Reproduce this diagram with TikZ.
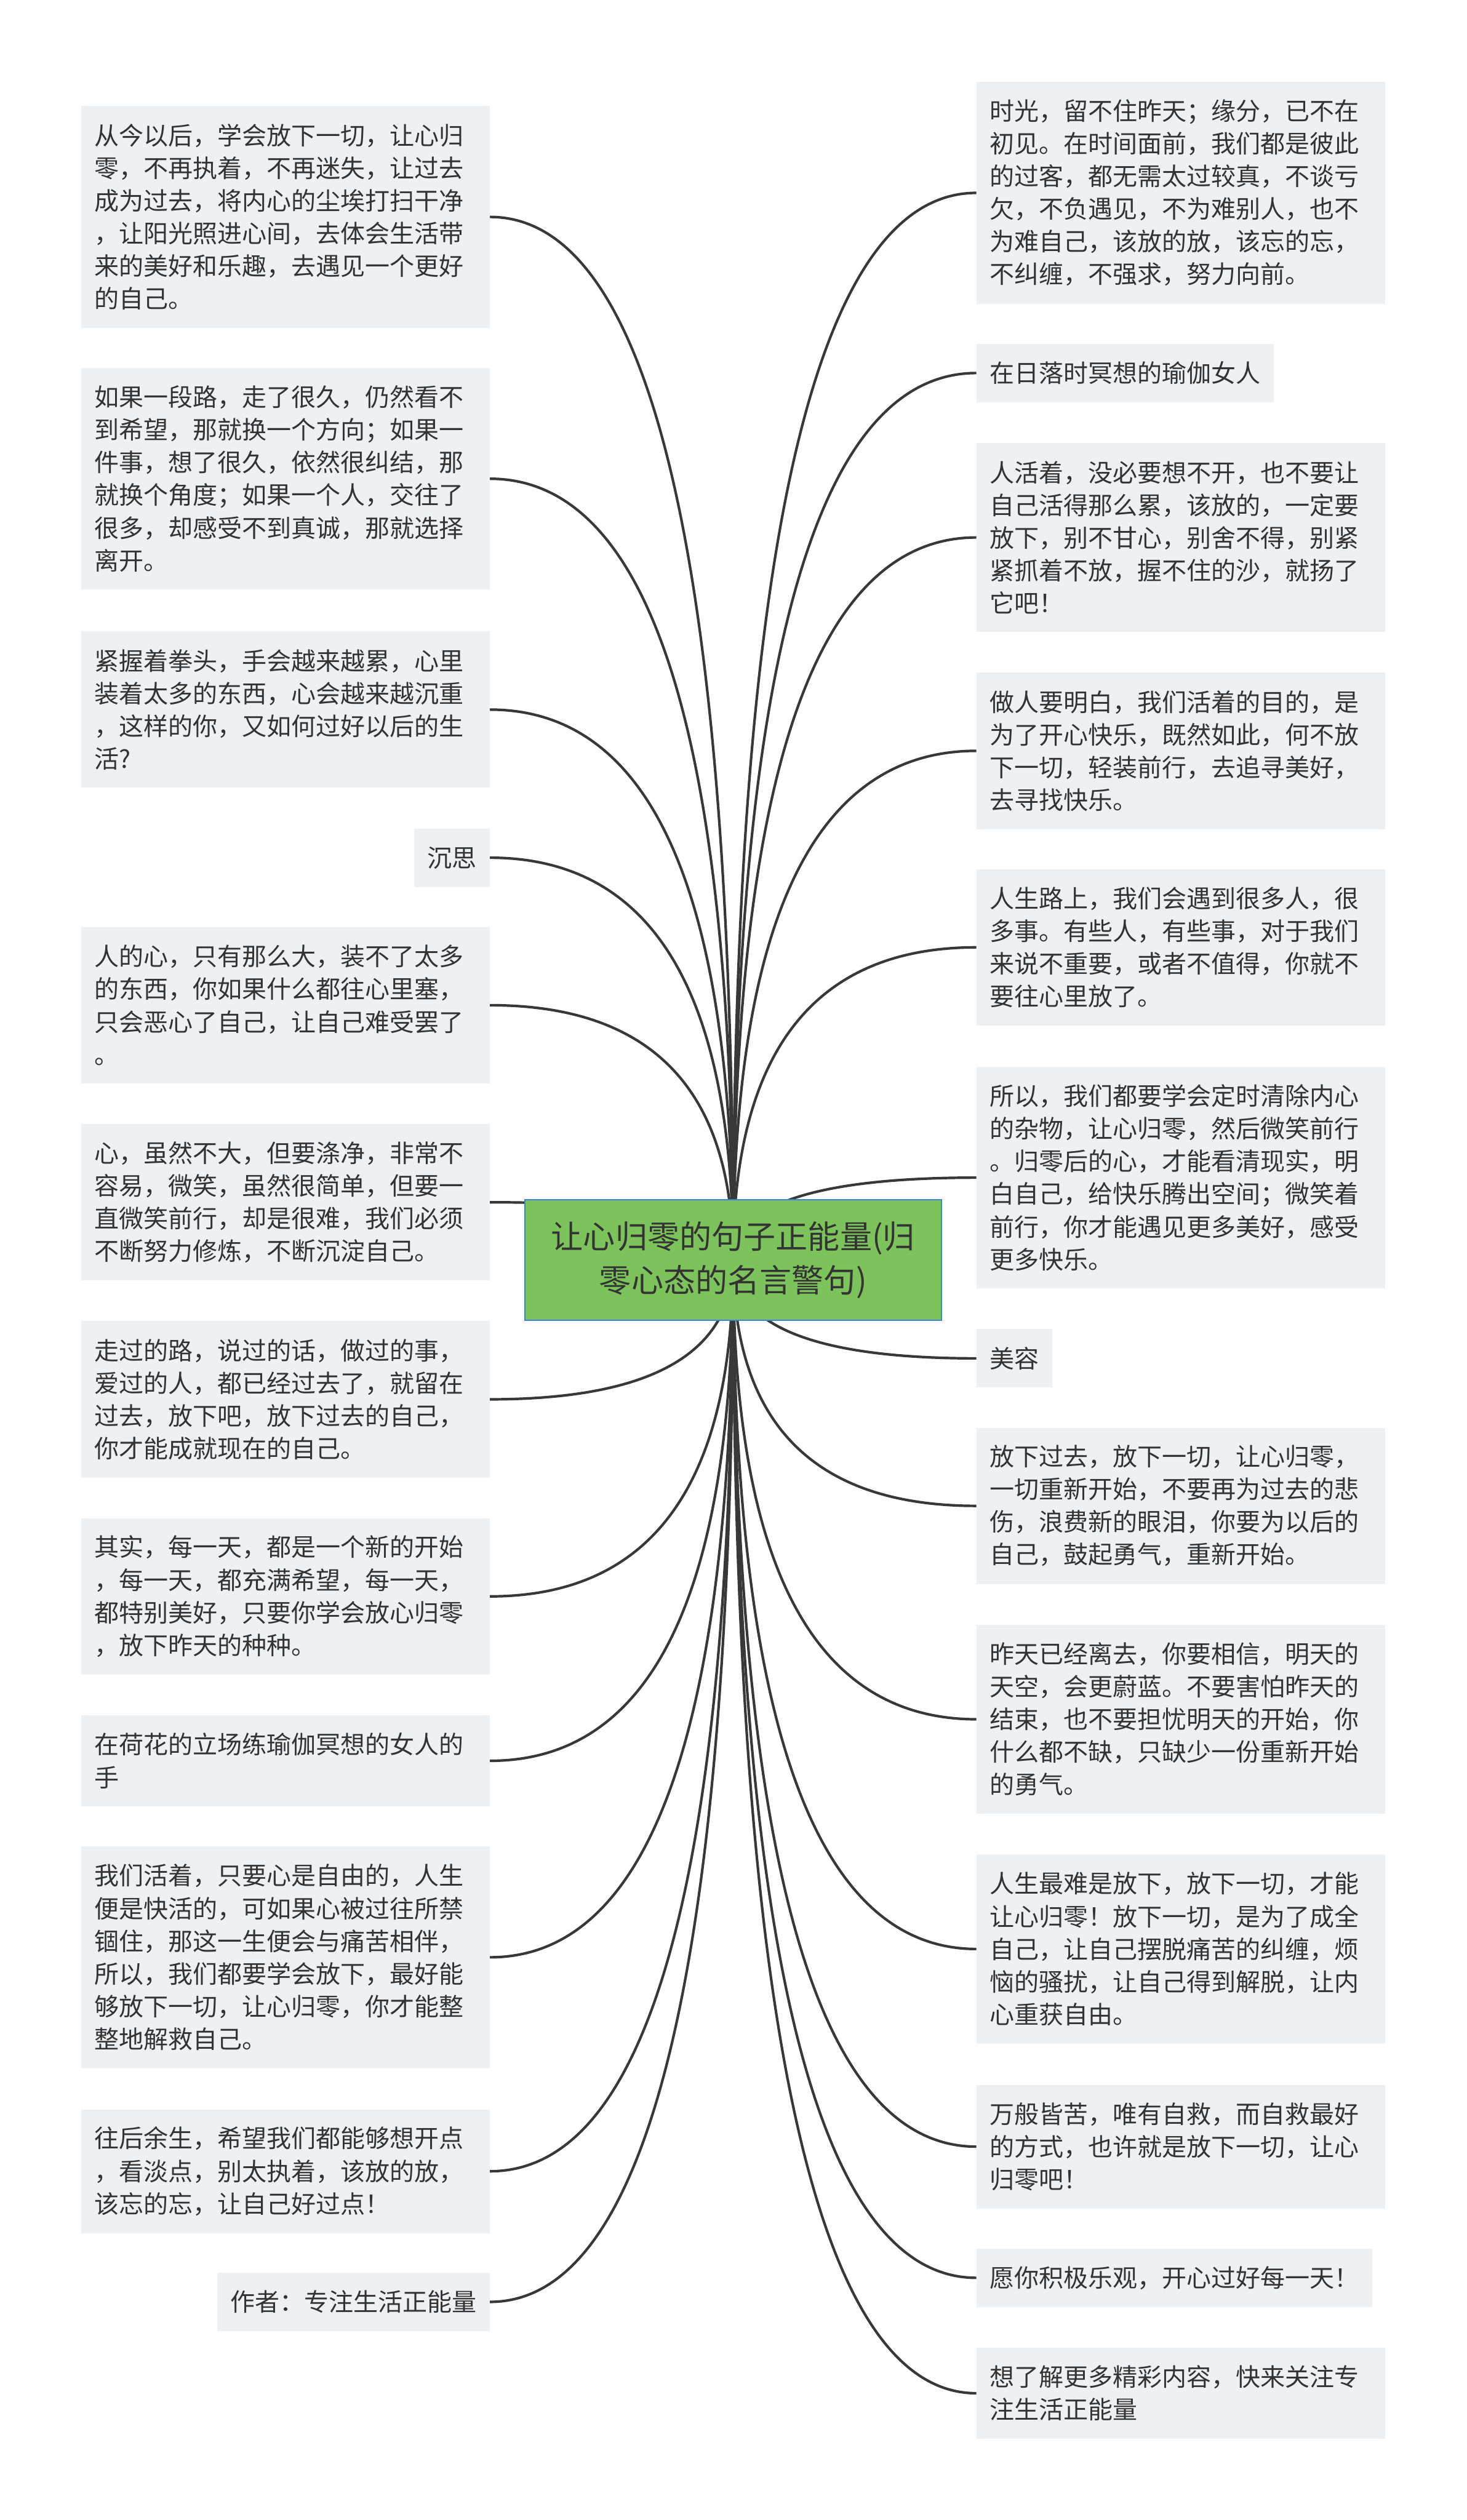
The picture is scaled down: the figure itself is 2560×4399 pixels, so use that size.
\documentclass[tikz,border=0pt]{standalone}
\usepackage{fontspec}
\newfontfamily\cjk{Noto Sans CJK SC}
\usetikzlibrary{calc,backgrounds}
\definecolor{ink}{HTML}{333333}
\definecolor{leafgray}{HTML}{EEF1F4}
\definecolor{rootgreen}{HTML}{7CC35B}
\definecolor{rootblue}{HTML}{3F80D8}
\definecolor{twiggray}{HTML}{383838}

\begin{document}
\begin{tikzpicture}[x=1pt,y=-1pt,
leaf/.style ={rectangle, fill=leafgray, text=ink,
  inner xsep=23pt, inner ysep=0pt, text width=667pt, align=left,
  minimum height={45pt+57pt*#1}, font=\cjk\fontsize{43}{57}\selectfont
},
tag/.style ={rectangle, fill=leafgray, text=ink,
  inner xsep=23pt, inner ysep=0pt, minimum height=102pt,
  font=\cjk\fontsize{43}{57}\selectfont
},
rootbox/.style ={rectangle, draw=rootblue, line width=2.5pt, fill=rootgreen,
  text=ink, align=center, minimum width=727pt, minimum height=211pt,
  font=\cjk\fontsize{56}{77}\selectfont
},
twig/.style ={draw=twiggray, line width=4.5pt}
]
\useasboundingbox (0,0) rectangle (2560,4399);

% centre
\node (root) at (1279.5,2199.5) [rootbox] {让心归零的句子正能量(归\\零心态的名言警句)};

% left side
\node (l1) at (855,185) [leaf=6, anchor=north east] {从今以后，学会放下一切，让心归\\零，不再执着，不再迷失，让过去\\成为过去，将内心的尘埃打扫干净\\，让阳光照进心间，去体会生活带\\来的美好和乐趣，去遇见一个更好\\的自己。};
\node (l2) at (855,642) [leaf=6, anchor=north east] {如果一段路，走了很久，仍然看不\\到希望，那就换一个方向；如果一\\件事，想了很久，依然很纠结，那\\就换个角度；如果一个人，交往了\\很多，却感受不到真诚，那就选择\\离开。};
\node (l3) at (855,1102) [leaf=4, anchor=north east] {紧握着拳头，手会越来越累，心里\\装着太多的东西，心会越来越沉重\\，这样的你，又如何过好以后的生\\活?};
\node (l4) at (855,1446) [tag, anchor=north east] {沉思};
\node (l5) at (855,1618) [leaf=4, anchor=north east] {人的心，只有那么大，装不了太多\\的东西，你如果什么都往心里塞，\\只会恶心了自己，让自己难受罢了\\。};
\node (l6) at (855,1962) [leaf=4, anchor=north east] {心，虽然不大，但要涤净，非常不\\容易，微笑，虽然很简单，但要一\\直微笑前行，却是很难，我们必须\\不断努力修炼，不断沉淀自己。};
\node (l7) at (855,2306) [leaf=4, anchor=north east] {走过的路，说过的话，做过的事，\\爱过的人，都已经过去了，就留在\\过去，放下吧，放下过去的自己，\\你才能成就现在的自己。};
\node (l8) at (855,2650) [leaf=4, anchor=north east] {其实，每一天，都是一个新的开始\\，每一天，都充满希望，每一天，\\都特别美好，只要你学会放心归零\\，放下昨天的种种。};
\node (l9) at (855,2994) [leaf=2, anchor=north east] {在荷花的立场练瑜伽冥想的女人的\\手};
\node (l10) at (855,3223) [leaf=6, anchor=north east] {我们活着，只要心是自由的，人生\\便是快活的，可如果心被过往所禁\\锢住，那这一生便会与痛苦相伴，\\所以，我们都要学会放下，最好能\\够放下一切，让心归零，你才能整\\整地解救自己。};
\node (l11) at (855,3682) [leaf=3, anchor=north east] {往后余生，希望我们都能够想开点\\，看淡点，别太执着，该放的放，\\该忘的忘，让自己好过点！};
\node (l12) at (855,3967) [tag, anchor=north east] {作者：专注生活正能量};

% right side
\node (r1) at (1704,143) [leaf=6, anchor=north west] {时光，留不住昨天；缘分，已不在\\初见。在时间面前，我们都是彼此\\的过客，都无需太过较真，不谈亏\\欠，不负遇见，不为难别人，也不\\为难自己，该放的放，该忘的忘，\\不纠缠，不强求，努力向前。};
\node (r2) at (1704,600) [tag, anchor=north west] {在日落时冥想的瑜伽女人};
\node (r3) at (1704,773) [leaf=5, anchor=north west] {人活着，没必要想不开，也不要让\\自己活得那么累，该放的，一定要\\放下，别不甘心，别舍不得，别紧\\紧抓着不放，握不住的沙，就扬了\\它吧！};
\node (r4) at (1704,1174) [leaf=4, anchor=north west] {做人要明白，我们活着的目的，是\\为了开心快乐，既然如此，何不放\\下一切，轻装前行，去追寻美好，\\去寻找快乐。};
\node (r5) at (1704,1517) [leaf=4, anchor=north west] {人生路上，我们会遇到很多人，很\\多事。有些人，有些事，对于我们\\来说不重要，或者不值得，你就不\\要往心里放了。};
\node (r6) at (1704,1862) [leaf=6, anchor=north west] {所以，我们都要学会定时清除内心\\的杂物，让心归零，然后微笑前行\\。归零后的心，才能看清现实，明\\白自己，给快乐腾出空间；微笑着\\前行，你才能遇见更多美好，感受\\更多快乐。};
\node (r7) at (1704,2320) [tag, anchor=north west] {美容};
\node (r8) at (1704,2492) [leaf=4, anchor=north west] {放下过去，放下一切，让心归零，\\一切重新开始，不要再为过去的悲\\伤，浪费新的眼泪，你要为以后的\\自己，鼓起勇气，重新开始。};
\node (r9) at (1704,2836) [leaf=5, anchor=north west] {昨天已经离去，你要相信，明天的\\天空，会更蔚蓝。不要害怕昨天的\\结束，也不要担忧明天的开始，你\\什么都不缺，只缺少一份重新开始\\的勇气。};
\node (r10) at (1704,3237) [leaf=5, anchor=north west] {人生最难是放下，放下一切，才能\\让心归零！放下一切，是为了成全\\自己，让自己摆脱痛苦的纠缠，烦\\恼的骚扰，让自己得到解脱，让内\\心重获自由。};
\node (r11) at (1704,3639) [leaf=3, anchor=north west] {万般皆苦，唯有自救，而自救最好\\的方式，也许就是放下一切，让心\\归零吧！};
\node (r12) at (1704,3925) [tag, anchor=north west] {愿你积极乐观，开心过好每一天！};
\node (r13) at (1704,4098) [leaf=2, anchor=north west] {想了解更多精彩内容，快来关注专\\注生活正能量};

% curved links behind the boxes
\begin{scope}[on background layer]
\fill[white] (0,0) rectangle (2560,4399);
\foreach \n/\a in {l1/east,l2/east,l3/east,l4/east,l5/east,l6/east,
  l7/east,l8/east,l9/east,l10/east,l11/east,l12/east,
  r1/west,r2/west,r3/west,r4/west,r5/west,r6/west,r7/west,
  r8/west,r9/west,r10/west,r11/west,r12/west,r13/west}{
  \coordinate (k) at (root.center |- \n.\a);
  \draw[twig] (root.center) .. controls ($(root.center)!2/3!(k)$) and ($(\n.\a)!2/3!(k)$) .. (\n.\a);
}
\end{scope}

\end{tikzpicture}
\end{document}
